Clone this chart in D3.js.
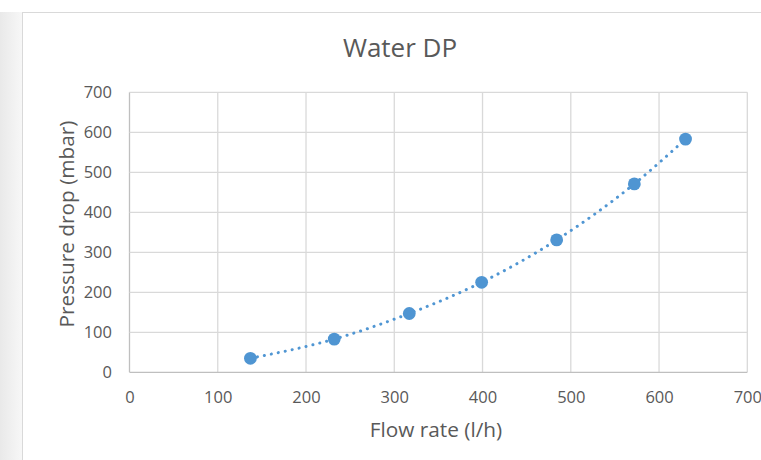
<!DOCTYPE html>
<html><head><meta charset="utf-8">
<script src="https://cdn.jsdelivr.net/npm/d3@7"></script>
<style>
html,body{margin:0;padding:0;background:#fff;}
svg{display:block;}
text{font-family:"Open Sans","Noto Sans",sans-serif;fill:#595959;}
</style></head><body>
<svg id="c" width="761" height="460"></svg>
<script>
const flowRate = [137, 232, 317, 399, 484, 572, 630];
const pressureDrop = [35, 83, 147, 225, 331, 471, 583];
const xTicks = [0, 100, 200, 300, 400, 500, 600, 700];
const yTicks = [0, 100, 200, 300, 400, 500, 600, 700];
const title = "Water DP";
const xTitle = "Flow rate (l/h)";
const yTitle = "Pressure drop (mbar)";

const svg = d3.select("#c");
const W = 761, H = 460;
const m = {l: 129.5, r: 747.3, t: 92.3, b: 372.3};

// left shadow
const defs = svg.append("defs");
const g0 = defs.append("linearGradient").attr("id","sh").attr("x1","0").attr("x2","1");
g0.append("stop").attr("offset","0").attr("stop-color","#e9e9e9");
g0.append("stop").attr("offset","1").attr("stop-color","#f7f7f7");
svg.append("rect").attr("x",0).attr("y",0).attr("width",W).attr("height",H).attr("fill","#fff");
svg.append("rect").attr("x",0).attr("y",0).attr("width",22).attr("height",H).attr("fill","url(#sh)");
svg.append("rect").attr("x",0).attr("y",0).attr("width",W).attr("height",12).attr("fill","#fff");
svg.append("rect").attr("x",22.5).attr("y",12.5).attr("width",W).attr("height",H).attr("fill","#fff").attr("stroke","#d9d9d9").attr("stroke-width",1);

const x = d3.scaleLinear().domain([0,700]).range([m.l, m.r]);
const y = d3.scaleLinear().domain([0,700]).range([m.b, m.t]);

// gridlines
const grid = svg.append("g");
grid.selectAll(".gx").data(xTicks).join("line")
  .attr("x1",d=>x(d)).attr("x2",d=>x(d)).attr("y1",m.t).attr("y2",m.b)
  .attr("stroke",d=>d===0?"#bfbfbf":"#d9d9d9").attr("stroke-width",1.3);
grid.selectAll(".gy").data(yTicks).join("line")
  .attr("x1",m.l).attr("x2",m.r).attr("y1",d=>y(d)).attr("y2",d=>y(d))
  .attr("stroke",d=>d===0?"#bfbfbf":"#d9d9d9").attr("stroke-width",1.3);

// axes labels via d3 axes
const xAxis = svg.append("g").attr("transform",`translate(0,${m.b})`)
  .call(d3.axisBottom(x).tickValues(xTicks).tickSize(0).tickPadding(19));
const yAxis = svg.append("g").attr("transform",`translate(${m.l},0)`)
  .call(d3.axisLeft(y).tickValues(yTicks).tickSize(0).tickPadding(17.5));
[xAxis,yAxis].forEach(a=>{
  a.select(".domain").remove();
  a.selectAll("text").style("font-family",'"Open Sans","Noto Sans",sans-serif')
    .style("font-size","16.5px").attr("fill","#595959");
});

// trendline (dotted) through data
const pts = flowRate.map((v,i)=>[v, pressureDrop[i]]);
const line = d3.line().x(d=>x(d[0])).y(d=>y(d[1])).curve(d3.curveMonotoneX);
svg.append("path").attr("d",line(pts)).attr("fill","none")
  .attr("stroke","#5096d3").attr("stroke-width",3)
  .attr("stroke-dasharray","0.1,7").attr("stroke-linecap","round");

// markers
svg.selectAll(".pt").data(pts).join("circle")
  .attr("cx",d=>x(d[0])).attr("cy",d=>y(d[1])).attr("r",6.4)
  .attr("fill","#4f95d2");

// titles
svg.append("text").attr("x",400).attr("y",57).attr("text-anchor","middle")
  .style("font-size","26px").text(title);
svg.append("text").attr("x",436).attr("y",437).attr("text-anchor","middle")
  .style("font-size","20.8px").text(xTitle);
svg.append("text").attr("transform",`translate(74,224) rotate(-90)`).attr("text-anchor","middle")
  .style("font-size","20.8px").text(yTitle);
</script></body></html>
